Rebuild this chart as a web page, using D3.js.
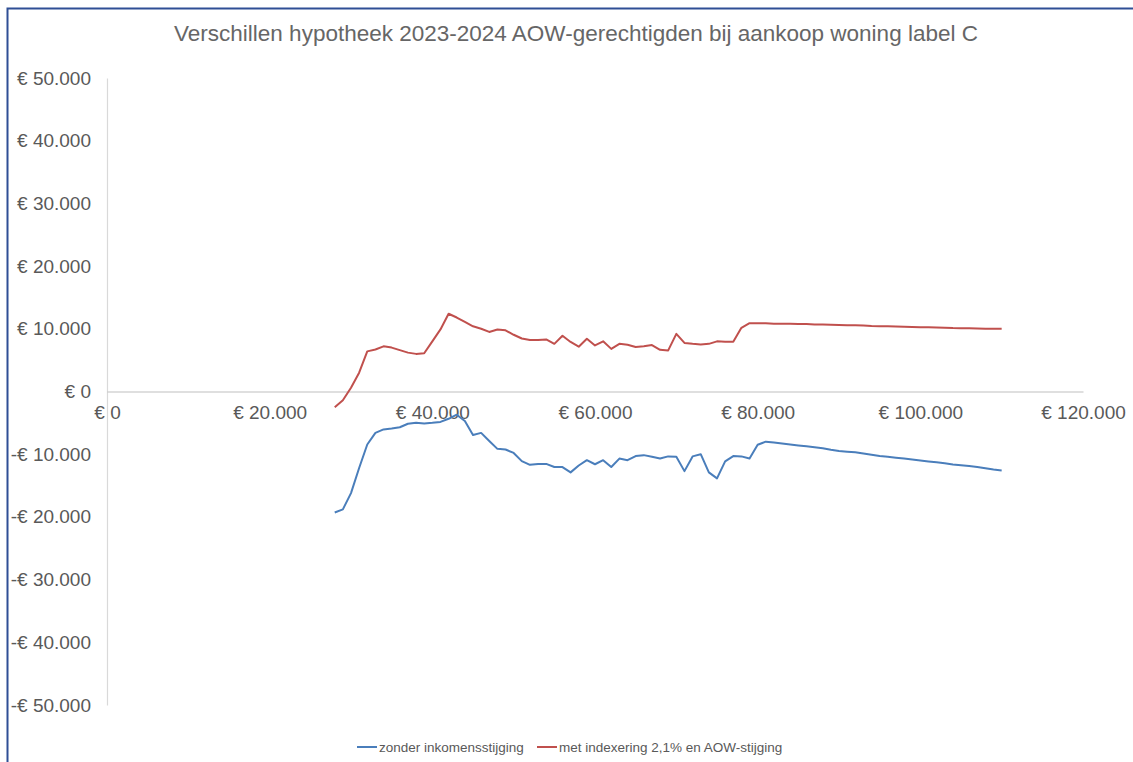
<!DOCTYPE html>
<html>
<head>
    <meta charset="utf-8">
    <style type="text/css">
        body { margin: 0; background: #fff; }
        text { font-family: "Liberation Sans", Arial, sans-serif; fill: #595959; }
    </style>
</head>
<body>
<svg id="chart"></svg>
<script src="https://d3js.org/d3.v7.min.js"></script>
<script type="text/javascript">
// inkomen (x), in euro
var inkomens = [
    28000, 29000, 30000, 31000, 32000, 33000, 34000, 35000, 36000, 37000,
    38000, 39000, 40000, 41000, 42000, 43000, 44000, 45000, 46000, 47000,
    48000, 49000, 50000, 51000, 52000, 53000, 54000, 55000, 56000, 57000,
    58000, 59000, 60000, 61000, 62000, 63000, 64000, 65000, 66000, 67000,
    68000, 69000, 70000, 71000, 72000, 73000, 74000, 75000, 76000, 77000,
    78000, 79000, 80000, 81000, 82000, 83000, 84000, 85000, 86000, 87000,
    88000, 89000, 90000, 91000, 92000, 93000, 94000, 95000, 96000, 97000,
    98000, 99000, 100000, 101000, 102000, 103000, 104000, 105000, 106000, 107000,
    108000, 109000, 110000
];

var zonderStijging = [
    -19300, -18800, -16200, -12200, -8450, -6600, -6050, -5900, -5700, -5150,
    -5000, -5100, -5000, -4850, -4350, -3700, -4700, -6950, -6600, -7900,
    -9150, -9250, -9800, -11100, -11700, -11550, -11550, -12050, -12050, -12900,
    -11800, -10950, -11600, -10950, -12050, -10700, -10950, -10300, -10150, -10400,
    -10700, -10350, -10400, -12700, -10350, -10000, -12900, -13850, -11150, -10300,
    -10350, -10700, -8500, -8000, -8150, -8300, -8450, -8600, -8750, -8900,
    -9050, -9300, -9500, -9600, -9700, -9900, -10100, -10300, -10400, -10550,
    -10700, -10850, -11000, -11150, -11300, -11450, -11650, -11750, -11900, -12050,
    -12250, -12450, -12600
];

var metIndexering = [
    -2500, -1400, 600, 3000, 6400, 6700, 7200, 7000, 6600, 6200,
    6000, 6100, 8000, 9900, 12400, 11800, 11100, 10400, 10000, 9500,
    9900, 9750, 9050, 8450, 8200, 8200, 8300, 7600, 8900, 7900,
    7150, 8400, 7350, 8000, 6800, 7600, 7450, 7100, 7200, 7400,
    6650, 6550, 9200, 7750, 7600, 7500, 7600, 8000, 7950, 7950,
    10150, 10900, 10900, 10900, 10800, 10800, 10800, 10780, 10750, 10700,
    10700, 10650, 10600, 10570, 10550, 10520, 10450, 10420, 10400, 10380,
    10330, 10300, 10260, 10250, 10220, 10180, 10120, 10100, 10080, 10050,
    10020, 10000, 9990
];

var xTicks = [0, 20000, 40000, 60000, 80000, 100000, 120000];
var yTicks = [50000, 40000, 30000, 20000, 10000, 0, -10000, -20000, -30000, -40000, -50000];

var titel = "Verschillen hypotheek 2023-2024 AOW-gerechtigden bij aankoop woning label C";
var reeksen = [
    { naam: "zonder inkomensstijging", waarden: zonderStijging, kleur: "#4a7ebb" },
    { naam: "met indexering 2,1% en AOW-stijging", waarden: metIndexering, kleur: "#c0504d" }
];

var width = 1133, height = 762;
var svg = d3.select("#chart").attr("width", width).attr("height", height);

// kader (alleen links en boven zichtbaar)
svg.append("rect")
    .attr("x", 7.5).attr("y", 8.5)
    .attr("width", width + 20).attr("height", height + 20)
    .attr("fill", "none").attr("stroke", "#2f4f95").attr("stroke-width", 2);

var x = d3.scaleLinear().domain([0, 120000]).range([107, 1083]);
var y = d3.scaleLinear().domain([-50000, 50000]).range([705, 78]);

function euro(v) {
    if (v === 0) return "€ 0";
    var s = d3.format(",")(Math.abs(v)).replace(/,/g, ".");
    return (v < 0 ? "-" : "") + "€ " + s;
}

// titel
svg.append("text")
    .attr("x", 576).attr("y", 41)
    .attr("text-anchor", "middle")
    .style("font-size", "22.5px")
    .attr("fill", "#666")
    .style("fill", "#666")
    .text(titel);

// y-as
var yAxis = svg.append("g")
    .attr("transform", "translate(107,0)")
    .call(d3.axisLeft(y).tickValues(yTicks).tickFormat(euro).tickSize(0).tickPadding(16));
yAxis.select(".domain").attr("stroke", "#d9d9d9").attr("stroke-width", 1.2);
yAxis.selectAll("text").style("font-size", "19px").attr("fill", "#595959")
    .style("font-family", "'Liberation Sans', Arial, sans-serif");

// x-as
var xAxis = svg.append("g")
    .attr("transform", "translate(0," + y(0) + ")")
    .call(d3.axisBottom(x).tickValues(xTicks).tickFormat(euro).tickSize(0).tickPadding(14));
xAxis.select(".domain").attr("stroke", "#bfbfbf").attr("stroke-width", 1.2);
xAxis.selectAll("text").style("font-size", "19px").attr("fill", "#595959")
    .style("font-family", "'Liberation Sans', Arial, sans-serif");

// lijnen
var lijn = d3.line()
    .x(function(d, i) { return x(inkomens[i]); })
    .y(function(d) { return y(d); });

svg.append("g").selectAll("path")
    .data(reeksen)
    .enter()
    .append("path")
    .attr("d", function(d) { return lijn(d.waarden); })
    .attr("fill", "none")
    .attr("stroke", function(d) { return d.kleur; })
    .attr("stroke-width", 2)
    .attr("stroke-linejoin", "round");

// legenda
var legendX = [357, 537];
var legenda = svg.append("g").selectAll("g")
    .data(reeksen)
    .enter()
    .append("g")
    .attr("transform", function(d, i) { return "translate(" + legendX[i] + ",747)"; });
legenda.append("line")
    .attr("x1", 0).attr("x2", 20).attr("y1", 0).attr("y2", 0)
    .attr("stroke", function(d) { return d.kleur; })
    .attr("stroke-width", 2);
legenda.append("text")
    .attr("x", 22).attr("y", 4.5)
    .style("font-size", "13.5px")
    .text(function(d) { return d.naam; });
</script>
</body>
</html>
